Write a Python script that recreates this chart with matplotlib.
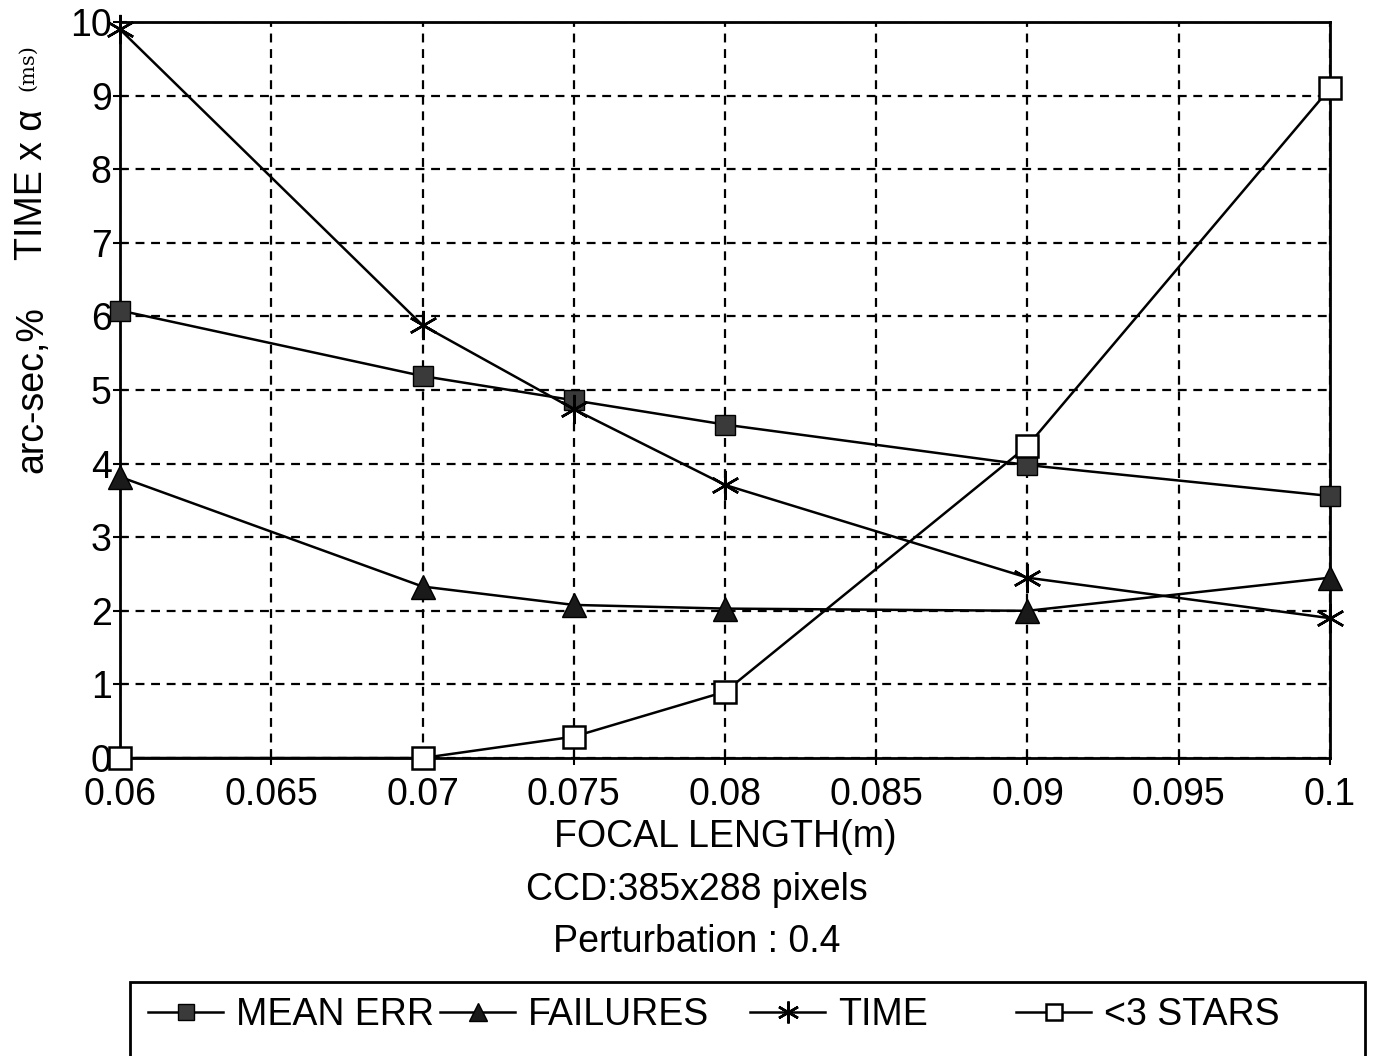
import matplotlib
matplotlib.use("Agg")
import matplotlib.pyplot as plt
from matplotlib.patches import Rectangle

focal = [0.06, 0.07, 0.075, 0.08, 0.09, 0.1]
mean_err = [6.08, 5.19, 4.86, 4.53, 3.98, 3.56]
failures = [3.82, 2.33, 2.08, 2.03, 2.0, 2.45]
time_ms = [9.9, 5.88, 4.74, 3.71, 2.45, 1.9]
lt3_stars = [0.0, 0.0, 0.29, 0.9, 4.24, 9.1]

series_names = ["MEAN ERR", "FAILURES", "TIME", "<3 STARS"]
xticks = [0.06, 0.065, 0.07, 0.075, 0.08, 0.085, 0.09, 0.095, 0.1]
xtick_labels = ["0.06", "0.065", "0.07", "0.075", "0.08", "0.085", "0.09", "0.095", "0.1"]
yticks = list(range(0, 11))
ytick_labels = [str(v) for v in yticks]

FONT = ["Liberation Sans", "DejaVu Sans"]

fig = plt.figure(figsize=(13.73, 10.56), dpi=100)
ax = fig.add_axes([120/1373, 1-758/1056, (1330-120)/1373, (758-22)/1056])

lw = 1.8
h1, = ax.plot(focal, mean_err, color="black", lw=lw, marker="s", ms=15,
              mfc="#3a3a3a", mec="black", mew=1.0, label=series_names[0], zorder=4, clip_on=False)
h2, = ax.plot(focal, failures, color="black", lw=lw, marker="^", ms=17,
              mfc="#1a1a1a", mec="black", mew=1.0, label=series_names[1], zorder=4, clip_on=False)
h3, = ax.plot(focal, time_ms, color="black", lw=lw, marker=(6, 2, 0), ms=21,
              mec="black", mew=1.8, label=series_names[2], zorder=4, clip_on=False)
h4, = ax.plot(focal, lt3_stars, color="black", lw=lw, marker="s", ms=16,
              mfc="white", mec="black", mew=1.8, label=series_names[3], zorder=5, clip_on=False)

ax.set_xlim(0.06, 0.1)
ax.set_ylim(0, 10)
ax.set_xticks(xticks)
ax.set_xticklabels(xtick_labels, fontfamily=FONT, fontsize=27)
ax.set_yticks(yticks)
ax.set_yticklabels(ytick_labels, fontfamily=FONT, fontsize=27)
ax.tick_params(axis="x", direction="inout", length=10, width=1.5, pad=9, colors="black")
ax.tick_params(axis="y", direction="inout", length=10, width=1.5, pad=1, colors="black")
ax.grid(True, color="black", linestyle=(0, (4, 3)), linewidth=1.6)
for s in ax.spines.values():
    s.set_linewidth(2.0)
    s.set_color("black")

ax.set_xlabel("FOCAL LENGTH(m)", fontfamily=FONT, fontsize=27, labelpad=4)

fig.text(697/1373, 1-890/1056, "CCD:385x288 pixels", ha="center", va="center",
         fontfamily=FONT, fontsize=27)
fig.text(697/1373, 1-942/1056, "Perturbation : 0.4", ha="center", va="center",
         fontfamily=FONT, fontsize=27)

# y-axis label pieces
fig.text(32/1373, 1-390/1056, "arc-sec,%", rotation=90, ha="center", va="center",
         fontfamily=FONT, fontsize=27)
fig.text(32/1373, 1-185/1056, "TIME x \u03b1", rotation=90, ha="center", va="center",
         fontfamily=FONT, fontsize=27)
fig.text(28/1373, 1-68/1056, "(ms)", rotation=90, ha="center", va="center",
         fontfamily=["DejaVu Serif", "DejaVu Sans"], fontsize=15)

# legend box
rect = Rectangle((130/1373, -0.05), (1365-130)/1373, 0.05 + (1056-982)/1056,
                 transform=fig.transFigure, fill=False, edgecolor="black", lw=2.0)
fig.patches.append(rect)

handles = [h1, h2, h3, h4]
leg_x = [148, 440, 750, 1016]
for h, name, lx in zip(handles, series_names, leg_x):
    lg = fig.legend([h], [name], loc="center left", bbox_to_anchor=(lx/1373, 1-1015/1056),
                    frameon=False, prop={"family": FONT, "size": 27},
                    handlelength=2.0, handletextpad=0.35, borderpad=0, borderaxespad=0,
                    markerscale=0.75)

fig.savefig("out.png", dpi=100)
